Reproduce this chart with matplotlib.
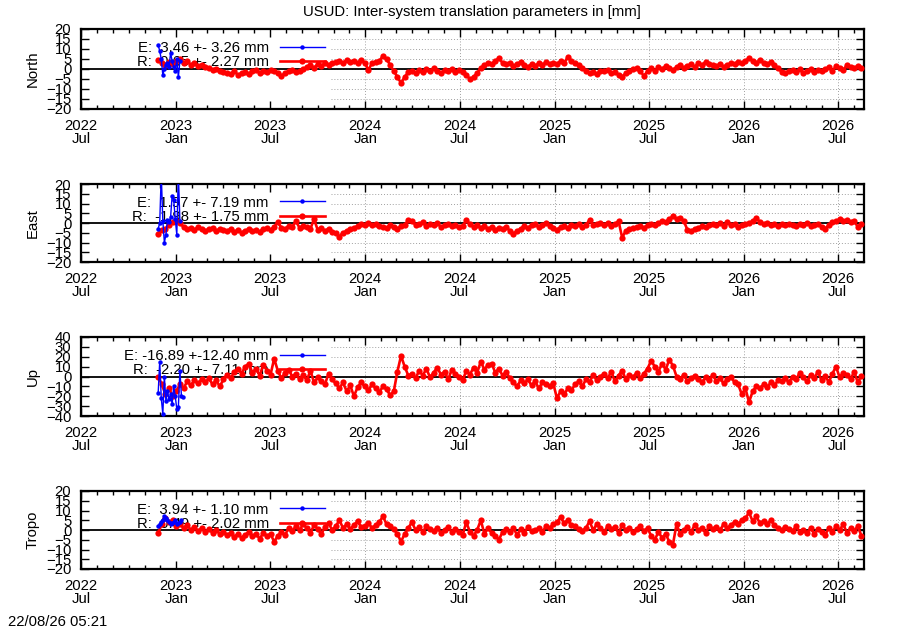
import matplotlib
matplotlib.use("Agg")
import matplotlib.pyplot as plt
import matplotlib.dates as mdates
import pandas as pd

plt.rcParams["font.family"] = ["Liberation Sans", "DejaVu Sans"]
plt.rcParams["font.size"] = 10.7

title = "USUD: Inter-system translation parameters in [mm]"
stamp = "22/08/26 05:21"
components = ["North", "East", "Up", "Tropo"]

# R: weekly samples, E: short series every 3 days
r_start = "2022-11-27"
e_start = "2022-11-27"

north_r = [4.5, 3, 2, 3.5, 2.5, 4,
           5, 3, 4, 2, 3, 1.5, 2, 1,
           0.5, -0.5, 0, -1, -1.5,
           -2, -2.5, -1, -3, -2, -1.5, -2.5, -1, -0.5, -2, -1, -1.5, -0.5,
           -1, -2, -3.5, -2, -1, -0.5, -1.5, -1, 0,
           1, 2, 0.5, 2.5, 1.5, 3, 2, 3,
           3.5, 4, 3, 4.5, 3.5, 4, 3, 4.5, 3,
           -0.5, 3, 3.5, 4,
           6.5, 5, 2, -1, -4, -7, -4, -1.5,
           -1, -2, -0.5, -1.5, 0, -1, 0.5, -1, -2, -0.5, -1, 0, -1.5, -0.5,
           -1.5, -3, -5, -4, -2,
           0.5, 2, 3, 2.5, 4, 5.5, 3, 2.5,
           3, 1.5, 2.5, 3.5, 2, 1, 2.5, 1.5, 3, 2, 3.5, 2.5, 3,
           2.5, 4, 3, 6, 4,
           3, 2, 0.5, -1, -2, -1.5, -2.5, -1,
           -1, -0.5, -2, -1.5, -3, -4, -2, -1, 0,
           0.5, -1, -3.5, -1,
           0.5, -1, 1, 0, 1.5, 0.5, -0.5, 1, 2, 0.5, 1.5, 2.5, 1,
           3, 2, 3.5, 2.5, 2,
           1.5, 2.5, 1, 2, 3, 2.5, 3.5, 3,
           4, 5.5, 4, 3, 4.5,
           3, 2.5, 3.5, 2,
           0.5, -1.5, -2, -1,
           -0.5, -1.5, 0, -2, -1, 0, -1.5, -0.5, -1,
           0, 1, -1, 1.5, 0.5, -0.5, 2, 1, 0.5,
           1.5, 0.5]

east_r = [-5.5, -3.5, -3, -1, 0.5, 1,
          0, -2, -3, -2.5, -3.5, -2, -3, -4,
          -3, -2.5, -4, -3, -3.5,
          -4, -3, -4.5, -3.5, -5, -4, -3, -4, -3.5, -4.5, -3, -2.5, -3.5,
          -2, 0.5, -2.5, -3, -1.5, -2, 1, -2.5, -1.5,
          -2, -3, 2, -3.5, -2.5, -4, -3, -4.5,
          -5, -7, -5, -4, -3, -2.5, -1.5, -0.5, -1,
          0, -1, -0.5, -1.5,
          -2, -2.5, -1, -2, -3, -1.5, -1, 1.5,
          1, -1, -0.5, 0.5, -1.5, -0.5, -1, 0, -2, -1, -0.5, -1.5, -1, -2,
          -1.5, 1.5, -0.5, -2, -1,
          -2.5, -1.5, -3, -2, -3.5, -2.5, -3, -2,
          -4, -5.5, -4, -3, -1.5, -2.5, -1, -0.5, -2, -1, 0, -1.5, -2.5,
          -3.5, -2, -1.5, -2.5, -1,
          -1.5, -0.5, -2, -1, 1.5, -1, -0.5, 0,
          -1, 0, -1.5, -0.5, 1, -7.5, -4, -3, -2.5,
          -2, -1.5, -2.5, -1,
          -0.5, -1, 0, 1, 0.5, 2, 3.5, 2, 2.5, 1, -3.5, -4, -3,
          -2.5, -1.5, -2, -1, -0.5,
          -1, 0, -1.5, 0.5, -1, -0.5, -2, -1,
          -0.5, 0, 1, 2.5, 0.5,
          -0.5, 0, -1, -0.5,
          -1.5, -0.5, -1, -0.5,
          -1, -1.5, -0.5, -1, 0, -1.5, -1, -0.5, -2,
          -3, -1, 0.5, 1, 2, 1, 1.5, 0.5, 1,
          -2, -0.5]

up_r = [0, -8, -18, -12, -20, -15,
        -8, -12, -5, -9, -4, -7, -3, -6,
        -2, -8, -4, -10, -3,
        2, -2, 5, 8, 3, 10, 13, 4, 8, 1, 12, 6, 2,
        18, 6, -2, 4, 7, 0, 3, -3, 2,
        -4, 6, -6, -1, -5, -8, 3, -3,
        -7, -12, -6, -15, -9, -20, -11, -6, -10,
        -14, -8, -12, -16,
        -10, -13, -19, -15, 5, 21, 10, 1,
        3, -2, 6, 1, 8, -1, 4, 9, 2, 5, -3, 7, 3, 0,
        -4, 6, 2, 9, 4,
        15, 7, 12, 13, 4, 8, 1, 5,
        -2, -6, -10, -4, -7, -3, -9, -5, -12, -6, -8, -10, -7,
        -22, -15, -18, -12, -14,
        -8, -5, -10, -3, -6, 2, -4, 0,
        3, -2, 5, -5, 1, 6, -3, 2, -1,
        4, -2, 3, 8,
        16, 10, 5, 13, 7, 17, 11, 0, -3, 2, -5, -2, 1,
        -3, -6, -1, -4, 2,
        -5, -2, -7, -3, 0, -6, -8, -18,
        -12, -26, -15, -10, -12,
        -8, -11, -6, -9,
        -4, -5, -2, -6,
        0, -3, 4, -1, -5, 2, -2, 5, -4,
        1, -6, 3, 10, -1, 4, 2, -3, 5,
        -6, 1]

tropo_r = [-1.5, 3, 6, 4, 5, 2,
           3, 1, 2.5, 0, 1.5, -0.5, 1, -1,
           0.5, -1.5, 0, -2, -1,
           -2.5, -1.5, -3.5, -2, -4, -2.5, -1, -3, -2, -4.5, -1.5, -3, -2,
           -6, -3, -1, -2.5, 1, -0.5, 2, 0, 3,
           1, -1.5, 2.5, 0.5, -2, 1.5, 3.5, 0,
           2, 5, 1, 3, 0.5, 2.5, 4.5, 1.5, 2,
           3.5, 1, 2.5, 4,
           7, 3, 2, 0.5, -2, -6, -2, 1,
           4, 0, 1.5, -1, 2, 0.5, -0.5, 1, -1.5, 0, 1.5, -1, 0.5, -1,
           -2.5, 4, -1, -3, 0,
           5, -2, 1, -1.5, -3, -5, -1, 0.5,
           -1, 1, -2.5, 0.5, -1.5, 1.5, -0.5, 0, 1, -1, 2, 1, 3,
           4, 6.5, 3.5, 5, 2.5,
           2, 0.5, -0.5, 1, 4.5, 0, 3, 1,
           -1, 2, 0.5, 1.5, -1.5, 2.5, 0, 1, -1,
           0.5, 2, -0.5, 1,
           -3, -5, -1, -4, -2, -6, -7.5, 3, -2, 0, 1.5, -1, 2.5,
           0, 1, -1.5, 2, 0.5,
           1.5, 0, 3, 1, 2.5, 4, 3, 5,
           6, 9, 4.5, 7, 3.5,
           4.5, 3, 5, 2.5,
           1, 0, 1.5, 0.5,
           -0.5, 2, -1, 0, -1.5, 1, -2, 0.5, -1,
           -2.5, 1, -1, 2, 0, 3, -1.5, 1, -0.5,
           2, -3]

north_e = [12, 9, 5, -3, 0, 2, 3, 1, 8, 4, 1, -1, 5, -4, 4]
east_e = [-3, 0, 25, 1, -10, -6, 1.5, 0.5, 3, 14, 12, 2, -6, 25, 1]
up_e = [-17, 15, -22, -38, 0, -25, -15, -23, -18, -28, -10, -20, -33, -31, 6, -20, -21]
tropo_e = [2, 3, 4, 5, 7, 6, 5, 4, 3, 3.5, 4, 5, 3, 3.5, 4, 5]

e_labels = ["E:  3.46 +- 3.26 mm", "E:  1.97 +- 7.19 mm",
            "E: -16.89 +-12.40 mm", "E:  3.94 +- 1.10 mm"]
r_labels = ["R:  0.65 +- 2.27 mm", "R:  -1.98 +- 1.75 mm",
            "R:  -2.20 +- 7.11 mm", "R:  0.49 +- 2.02 mm"]
y_max = [20, 20, 40, 20]
y_step = [5, 5, 10, 5]

r_series = [north_r, east_r, up_r, tropo_r]
e_series = [north_e, east_e, up_e, tropo_e]

# panel frames in pixels (top, bottom) on a 900x630 canvas
W, H = 900, 630
x0, x1 = 81, 864
frames = [(29, 109), (184, 262), (337, 416), (491, 569)]
key_edge = 0.319  # the opaque key box hides the grid left of this

xmin = pd.Timestamp("2022-07-01")
xmax = pd.Timestamp("2026-08-21")

fig = plt.figure(figsize=(9, 6.3), dpi=100)

for k, name in enumerate(components):
    top, bot = frames[k]
    ax = fig.add_axes([x0 / W, 1 - bot / H, (x1 - x0) / W, (bot - top) / H])

    r_dates = pd.date_range(r_start, periods=len(r_series[k]), freq="7D")
    e_dates = pd.date_range(e_start, periods=len(e_series[k]), freq="3D")

    hr, = ax.plot(r_dates, r_series[k], "-o", color="red", lw=1.9, ms=4.5,
                  mew=0, label=r_labels[k], zorder=3)
    he, = ax.plot(e_dates, e_series[k], "-o", color="blue", lw=1.0, ms=3.2,
                  mew=0, label=e_labels[k], zorder=3.5)

    ax.axhline(0, color="black", lw=1.3, zorder=2.5)

    ax.set_xlim(xmin, xmax)
    ax.set_ylim(-y_max[k], y_max[k])
    ax.set_yticks(range(-y_max[k], y_max[k] + 1, y_step[k]))

    ax.xaxis.set_major_locator(mdates.MonthLocator(bymonth=[1, 7]))
    ax.xaxis.set_minor_locator(mdates.MonthLocator())
    ax.xaxis.set_major_formatter(mdates.DateFormatter("%Y\n%b"))

    ax.tick_params(which="both", direction="in", top=True, right=True)
    ax.tick_params(which="major", length=6, width=1.0)
    ax.tick_params(which="minor", length=3, width=1.0)
    ax.tick_params(axis="x", pad=7)
    ax.tick_params(axis="y", pad=7)
    for lab in ax.get_xticklabels():
        lab.set_linespacing(0.9)
    for s in ax.spines.values():
        s.set_linewidth(1.6)

    # dotted grid, only outside the key box
    grid = dict(color="#a0a0a0", lw=0.7, ls=(0, (1, 2)), zorder=1)
    for yv in ax.get_yticks():
        ax.axhline(yv, xmin=key_edge, xmax=1, **grid)
    lo, hi = mdates.date2num(xmin), mdates.date2num(xmax)
    for t in ax.xaxis.get_majorticklocs():
        if (t - lo) / (hi - lo) > key_edge:
            ax.axvline(t, **grid)

    ax.set_ylabel(name)
    ax.yaxis.set_label_coords(-0.062, 0.5)
    ax.yaxis.label.set_verticalalignment("center")

    leg = ax.legend(handles=[he, hr], loc="upper right",
                    bbox_to_anchor=(0.311, 0.85), frameon=False,
                    markerfirst=False, numpoints=1, borderpad=0,
                    borderaxespad=0, handlelength=3.0, handletextpad=0.75,
                    labelspacing=0.02)
    leg.set_zorder(2)

fig.text(472 / W, 1 - 12 / H, title, ha="center", va="center")
fig.text(8 / W, 1 - 622 / H, stamp, ha="left", va="center")

fig.savefig("out.png", dpi=100)
